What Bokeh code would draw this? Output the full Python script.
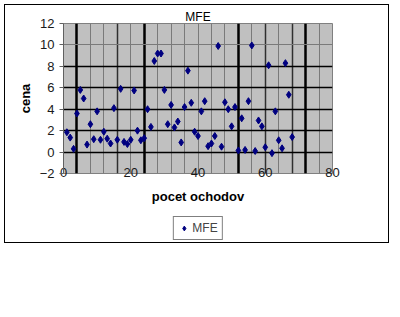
from bokeh.plotting import figure
from bokeh.layouts import column
from bokeh.models import Range1d, FixedTicker, Grid, Legend, LegendItem
from bokeh.embed import file_html
from bokeh.resources import INLINE

# ---- data ----
trade_no = list(range(1, 69))
mfe = [1.85, 1.35, 0.3, 3.6, 5.8, 5.0, 0.7, 2.6, 1.2, 3.8,
       1.15, 1.9, 1.25, 0.8, 4.1, 1.15, 5.9, 0.95, 0.75, 1.15,
       5.75, 2.0, 1.1, 1.3, 4.0, 2.35, 8.5, 9.2, 9.2, 5.8,
       2.6, 4.4, 2.3, 2.85, 0.9, 4.2, 7.6, 4.6, 1.9, 1.5,
       3.8, 4.75, 0.55, 0.8, 1.5, 9.9, 0.5, 4.65, 4.0, 2.4,
       4.2, 0.15, 3.15, 0.2, 4.75, 9.95, 0.1, 2.95, 2.4, 0.45,
       8.1, -0.1, 3.8, 1.1, 0.35, 8.3, 5.35, 1.4]
series_name = "MFE"

x_ticks = [0, 20, 40, 60, 80]
y_ticks = [-2, 0, 2, 4, 6, 8, 10, 12]
x_grid_thin = [8, 12, 20, 28, 32, 36, 40, 44, 48, 56, 64, 76]
x_grid_mid = [16, 60, 68]
x_grid_thick = [4, 24, 52, 72]
y_grid_dark = [0, 2, 4, 6, 8]
y_grid_light = [10]

FONT = "Liberation Sans"
NAVY = "#000080"

p = figure(frame_width=269, frame_height=150,
           x_range=Range1d(0, 80), y_range=Range1d(-2, 12),
           output_backend="svg", toolbar_location=None,
           min_border_left=58, min_border_right=56, min_border_top=18, min_border_bottom=40,
           background_fill_color="#c0c0c0", border_fill_color="white",
           outline_line_color="#808080")

p.xgrid.visible = False
p.ygrid.visible = False

p.add_layout(Grid(dimension=0, ticker=FixedTicker(ticks=x_grid_thin),
                  grid_line_color="#7a7a7a", grid_line_width=1))
p.add_layout(Grid(dimension=0, ticker=FixedTicker(ticks=x_grid_mid),
                  grid_line_color="#303030", grid_line_width=1.5))
p.add_layout(Grid(dimension=0, ticker=FixedTicker(ticks=x_grid_thick),
                  grid_line_color="#000000", grid_line_width=2.5))
p.add_layout(Grid(dimension=1, ticker=FixedTicker(ticks=y_grid_dark),
                  grid_line_color="#000000", grid_line_width=1.5))
p.add_layout(Grid(dimension=1, ticker=FixedTicker(ticks=y_grid_light),
                  grid_line_color="#7a7a7a", grid_line_width=1))

# title
p.title.text = series_name
p.title.align = "center"
p.title.text_font = FONT
p.title.text_font_size = "12px"
p.title.text_font_style = "normal"
p.title.text_color = "#000000"
p.title.vertical_align = "bottom"
p.title.standoff = 0
p.title.offset = -2

# x axis
xa = p.xaxis[0]
xa.ticker = FixedTicker(ticks=x_ticks)
xa.axis_line_color = None
xa.major_tick_line_color = None
xa.minor_tick_line_color = None
xa.major_label_standoff = -12
xa.major_label_text_font = FONT
xa.major_label_text_font_size = "13px"
xa.major_label_text_color = "#1a1a1a"
xa.axis_label = "pocet ochodov"
xa.axis_label_text_font = FONT
xa.axis_label_text_font_style = "bold"
xa.axis_label_text_font_size = "13px"
xa.axis_label_text_color = "#000000"
xa.axis_label_standoff = 9

# y axis
ya = p.yaxis[0]
ya.ticker = FixedTicker(ticks=y_ticks)
ya.axis_line_color = "#606060"
ya.major_tick_line_color = "#606060"
ya.major_tick_out = 4
ya.major_tick_in = 0
ya.minor_tick_line_color = None
ya.major_label_standoff = 5
ya.major_label_text_font = FONT
ya.major_label_text_font_size = "13px"
ya.major_label_text_color = "#1a1a1a"
ya.axis_label = "cena"
ya.axis_label_text_font = FONT
ya.axis_label_text_font_style = "bold"
ya.axis_label_text_font_size = "13px"
ya.axis_label_text_color = "#000000"
ya.axis_label_standoff = 4

p.scatter(trade_no, mfe, marker="diamond", size=7,
          fill_color=NAVY, line_color=NAVY)

# legend strip below the plot: the key renderer's points fall outside this
# strip's ranges, so only the legend swatch is visible
p2 = figure(width=383, height=29, output_backend="svg", toolbar_location=None,
            x_range=Range1d(0, 1), y_range=Range1d(-100, -99),
            x_axis_location=None, y_axis_location=None, min_border=0,
            outline_line_color=None, border_fill_color="white",
            background_fill_color="white")
p2.grid.visible = False
key = p2.scatter(trade_no, mfe, marker="diamond", size=7,
                 fill_color=NAVY, line_color=NAVY)
legend = Legend(items=[LegendItem(label=series_name, renderers=[key])],
                location="center", orientation="horizontal",
                label_text_font=FONT, label_text_font_size="12px",
                glyph_width=12, glyph_height=12, label_height=12,
                label_standoff=3, padding=4, margin=0, spacing=0,
                border_line_color="#000000", border_line_width=1,
                background_fill_color="white", background_fill_alpha=1)
p2.add_layout(legend, "center")

layout = column(p, p2, spacing=0, margin=(4, 0, 0, 4),
                styles={"border": "1px solid black"})

open("out.html", "w").write(file_html(layout, INLINE))
